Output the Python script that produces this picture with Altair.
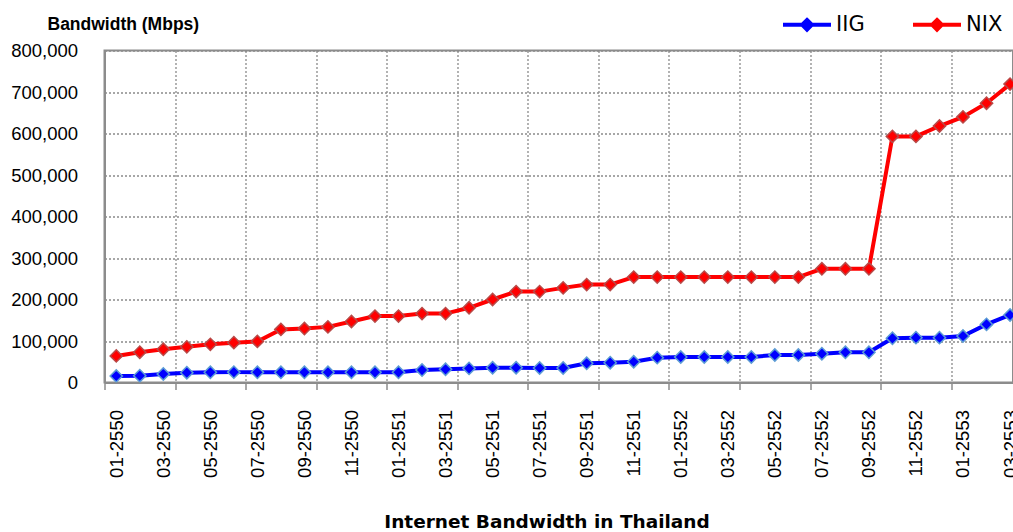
import json

import altair as alt
import pandas as pd

# Month labels (Thai Buddhist-era years), one per data point
months = (
    [f"{m:02d}-{y}" for y in (2550, 2551, 2552) for m in range(1, 13)]
    + ["01-2553", "02-2553", "03-2553"]
)

# Monthly bandwidth in Mbps
iig = [
    15700, 16400, 20500, 23600, 24600, 25000, 24600, 24600, 24600, 24600,
    24600, 24600, 24600, 30000, 31800, 34000, 35500, 35500, 35000, 35000,
    46300, 47700, 50000, 59800, 61400, 61400, 61400, 61400, 66300, 66300,
    69400, 72800, 72800, 106500, 108000, 108000, 112000, 140000, 162700,
]
nix = [
    64000, 73000, 80000, 86000, 92000, 96000, 99000, 128000, 130000, 134000,
    147000, 160000, 160000, 166000, 166000, 180000, 200000, 219000, 219000, 228000,
    236000, 236000, 254000, 254000, 254000, 254000, 254000, 254000, 254000, 254000,
    274000, 274000, 274000, 593000, 593000, 618000, 640000, 673000, 719000,
]

series = ["IIG", "NIX"]
line_colors = ["#0000FF", "#FF0000"]
edge_colors = ["#5B9BD5", "#B84A48"]

rows = []
for i, month in enumerate(months):
    rows.append({"idx": i, "month": month, "series": "IIG", "mbps": iig[i]})
    rows.append({"idx": i, "month": month, "series": "NIX", "mbps": nix[i]})
df = pd.DataFrame(rows)

# Labels every second month, grid/tick lines every third category boundary
label_idx = list(range(0, len(months), 2))
boundary_idx = [k * 3 - 0.5 for k in range(13)]
x_values = sorted(label_idx + boundary_idx)

is_boundary = "datum.value % 1 != 0"
label_expr = f"datum.value % 1 == 0 ? {json.dumps(months)}[datum.value] : ''"

FONT = "Liberation Sans"
GRID = "#8a8a8a"
AXIS = "#8c8c8c"

x_enc = alt.X(
    "idx:Q",
    scale=alt.Scale(domain=[-0.5, 38.126], nice=False, zero=False),
    axis=alt.Axis(
        values=x_values,
        labelExpr=label_expr,
        labelAngle=-90,
        labelFont=FONT,
        labelFontSize=18.5,
        labelColor="#000000",
        labelPadding=20,
        labelOverlap=False,
        labelFlush=False,
        ticks=True,
        tickSize=7,
        tickColor=AXIS,
        tickWidth=1.5,
        tickOpacity={"condition": {"test": is_boundary, "value": 1}, "value": 0},
        grid=True,
        gridColor=GRID,
        gridDash=[2, 2],
        gridWidth=1.3,
        gridOpacity={"condition": {"test": is_boundary, "value": 1}, "value": 0},
        domainColor=AXIS,
        domainWidth=2,
        title="Internet Bandwidth in Thailand",
        titleFont="DejaVu Sans",
        titleFontSize=18.5,
        titleFontWeight="bold",
        titleColor="#000000",
        titleAlign="center",
        titleBaseline="middle",
        titleX=442,
        titleY=138.5,
    ),
)

y_enc = alt.Y(
    "mbps:Q",
    scale=alt.Scale(domain=[0, 800000], nice=False),
    axis=alt.Axis(
        values=list(range(0, 800001, 100000)),
        format=",d",
        labelFont=FONT,
        labelFontSize=18.5,
        labelColor="#000000",
        labelPadding=27,
        ticks=False,
        grid=True,
        gridColor=GRID,
        gridDash=[2, 2],
        gridWidth=1.3,
        domainColor=AXIS,
        domainWidth=2,
        title="Bandwidth (Mbps)",
        titleAngle=0,
        titleFont=FONT,
        titleFontSize=17.5,
        titleFontWeight="bold",
        titleColor="#000000",
        titleAlign="left",
        titleBaseline="middle",
        titleX=-57.5,
        titleY=-26.5,
    ),
)

legend = alt.Legend(
    orient="none",
    legendX=676.5,
    legendY=-51.8,
    direction="horizontal",
    title=None,
    symbolType="M-1,0H1M0,-0.2L0.2,0L0,0.2L-0.2,0Z",
    symbolSize=2304,
    symbolStrokeWidth=4,
    symbolOpacity=1,
    labelFont="DejaVu Sans",
    labelFontSize=21,
    labelColor="#000000",
    labelOffset=3,
    columnPadding=40,
    padding=0,
)

color_enc = alt.Color(
    "series:N",
    scale=alt.Scale(domain=series, range=line_colors),
    legend=legend,
)

lines = alt.Chart(df).mark_line(strokeWidth=4, clip=True).encode(
    x=x_enc, y=y_enc, color=color_enc, detail="series:N"
)

points = alt.Chart(df).mark_point(
    filled=True, shape="diamond", size=150, strokeWidth=1.5, opacity=1, clip=True
).encode(
    x=x_enc,
    y=y_enc,
    color=color_enc,
    stroke=alt.Stroke(
        "series:N", scale=alt.Scale(domain=series, range=edge_colors), legend=None
    ),
)

chart = (
    alt.layer(lines, points)
    .properties(
        width=908.5,
        height=332,
        autosize=alt.AutoSizeParams(type="none"),
        padding={"left": 104.5, "top": 50.5, "right": 0, "bottom": 149.5},
        background="#ffffff",
    )
    .configure_view(stroke=AXIS, strokeWidth=2)
)

chart.save("out.html", embed_options={"renderer": "svg", "actions": False})
